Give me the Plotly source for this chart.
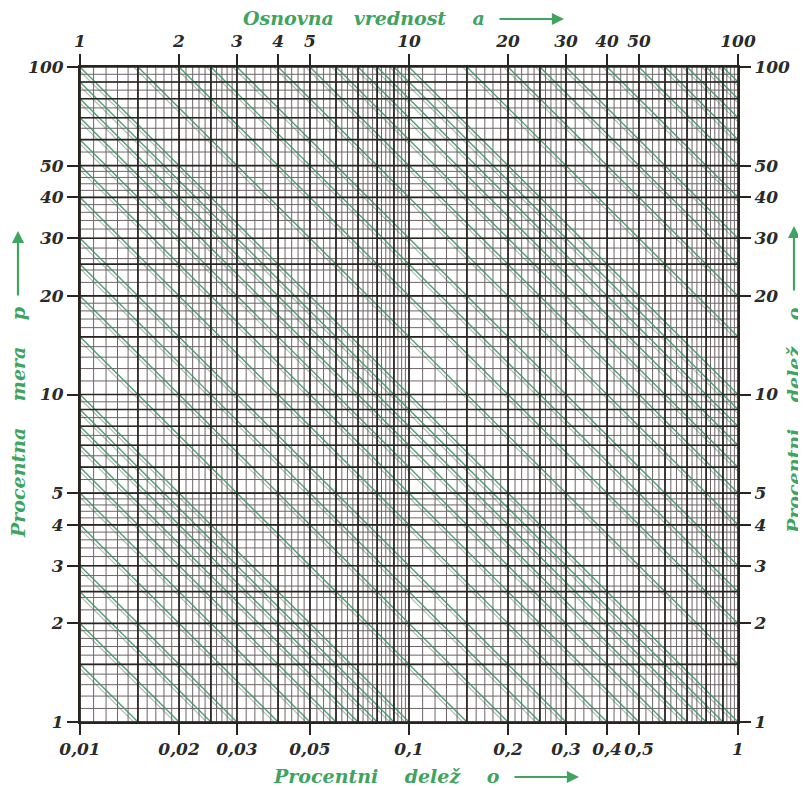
import numpy as np
import plotly.graph_objects as go

# ---------------- data: scales and tick labels ----------------
A_TICKS = [1, 2, 3, 4, 5, 10, 20, 30, 40, 50, 100]          # Osnovna vrednost a (top)
A_LABELS = ["1", "2", "3", "4", "5", "10", "20", "30", "40", "50", "100"]
O_TICKS = [0.01, 0.02, 0.03, 0.05, 0.1, 0.2, 0.3, 0.4, 0.5, 1]  # Procentni delez o (bottom)
O_LABELS = ["0,01", "0,02", "0,03", "0,05", "0,1", "0,2", "0,3", "0,4", "0,5", "1"]
P_TICKS = [1, 2, 3, 4, 5, 10, 20, 30, 40, 50, 100]          # Procentna mera p (left)
P_LABELS = ["1", "2", "3", "4", "5", "10", "20", "30", "40", "50", "100"]
R_TICKS = [1, 2, 3, 4, 5, 10, 20, 30, 40, 50, 100]          # Procentni delez o (right)
R_LABELS = ["1", "2", "3", "4", "5", "10", "20", "30", "40", "50", "100"]

# ruling of the log paper (mantissas inside one decade)
MAJOR_MANTISSAS = [1, 1.5, 2, 2.5, 3, 4, 5, 6, 7, 8, 9]
X_MINOR_SEGMENTS = [(1, 3, 0.1), (3, 5, 0.2), (5, 10, 0.25)]
Y_MINOR_SEGMENTS = [(1, 2, 0.1), (2, 5, 0.2), (5, 10, 0.5)]
DECADES = [1, 10]
# diagonal lines of constant o = a*p/100
DIAG_MANTISSAS = [1, 1.5, 2, 2.5, 3, 4, 5, 6, 7, 8, 9]
DIAG_DECADES = [0.01, 0.1, 1, 10]
PRINT_SHIFT = 1.03   # slight misregistration of the printed diagonals (second plate)

LO, HI = 1, 100

GREEN = "#3fa45e"
DARK = "#2a2421"
MINOR = "#6f6469"
DIAG = "rgba(60,150,100,0.9)"
DIAG2 = "rgba(80,95,90,0.45)"
FONT = "DejaVu Serif"


def minor_values(segments):
    vals = []
    for d in DECADES:
        for s, e, st in segments:
            for v in np.arange(s, e - 1e-9, st):
                vals.append(round(v * d, 6))
    return sorted(set(vals))


def major_values():
    vals = [m * d for d in DECADES for m in MAJOR_MANTISSAS] + [100]
    return sorted(set(round(v, 6) for v in vals))


def vlines(vals):
    xs, ys = [], []
    for v in vals:
        xs += [v, v, None]
        ys += [LO, HI, None]
    return xs, ys


def hlines(vals):
    xs, ys = [], []
    for v in vals:
        xs += [LO, HI, None]
        ys += [v, v, None]
    return xs, ys


def diagonals(factor):
    dx, dy = [], []
    for d in DIAG_DECADES:
        for m in DIAG_MANTISSAS:
            o = m * d * factor
            a0, a1 = max(LO, o), min(HI, 100 * o)
            if a1 > a0 * 1.0001:
                dx += [a0, a1, None]
                dy += [100 * o / a0, 100 * o / a1, None]
    return dx, dy


fig = go.Figure()

# minor ruling
mx, my = vlines(minor_values(X_MINOR_SEGMENTS))
hx, hy = hlines(minor_values(Y_MINOR_SEGMENTS))
fig.add_trace(go.Scatter(x=mx + hx, y=my + hy, mode="lines",
                         line=dict(color=MINOR, width=1), hoverinfo="skip", showlegend=False))

# diagonals (green plate plus faint offset dark plate)
dx2, dy2 = diagonals(1 / PRINT_SHIFT)
fig.add_trace(go.Scatter(x=dx2, y=dy2, mode="lines",
                         line=dict(color=DIAG2, width=1.1), hoverinfo="skip", showlegend=False))
dx, dy = diagonals(1.0)
fig.add_trace(go.Scatter(x=dx, y=dy, mode="lines",
                         line=dict(color=DIAG, width=1.4), hoverinfo="skip", showlegend=False))

# major ruling
Mx, My = vlines(major_values())
Hx, Hy = hlines(major_values())
fig.add_trace(go.Scatter(x=Mx + Hx, y=My + Hy, mode="lines",
                         line=dict(color=DARK, width=1.7), hoverinfo="skip", showlegend=False))

# invisible trace to activate the secondary axes
fig.add_trace(go.Scatter(x=[0.01, 1], y=[1, 100], xaxis="x2", yaxis="y2", mode="markers",
                         marker=dict(opacity=0), hoverinfo="skip", showlegend=False))

tickfont = dict(family=FONT, size=17, color="#2a2a2a", style="italic", weight="bold")
axis_common = dict(type="log", showgrid=False, zeroline=False, ticks="outside", ticklen=11,
                   tickwidth=1.5, tickcolor=DARK, showline=True, linecolor=DARK, linewidth=2,
                   tickfont=tickfont, fixedrange=True, tickangle=0, automargin=False)

# page body has an 8px margin, so the figure is 8px smaller than the window
fig.update_layout(
    width=798, height=780,
    margin=dict(l=72, r=68, t=59, b=66, autoexpand=False),
    paper_bgcolor="white", plot_bgcolor="white",
    xaxis=dict(axis_common, range=[0, 2], side="top", tickvals=A_TICKS, ticktext=A_LABELS),
    xaxis2=dict(axis_common, range=[-2, 0], side="bottom", overlaying="x",
                tickvals=O_TICKS, ticktext=O_LABELS),
    yaxis=dict(axis_common, range=[0, 2], side="left", tickvals=P_TICKS, ticktext=P_LABELS),
    yaxis2=dict(axis_common, range=[0, 2], side="right", overlaying="y",
                tickvals=R_TICKS, ticktext=R_LABELS),
)

# ---------- titles with arrows (window-pixel positions converted to paper units) ----------
W, H, L, B = 658.0, 655.0, 80.0, 722.0


def px(xp):
    return (xp - L) / W


def py(yp):
    return (B - yp) / H


titlefont = dict(family=FONT, size=19, color=GREEN, style="italic", weight="bold")
sp = "&nbsp;" * 4
sp3 = "&nbsp;" * 3

ann = []
ann.append(dict(x=px(364), y=py(18), xref="paper", yref="paper", showarrow=False,
                text="Osnovna" + sp3 + "vrednost" + sp + "a", font=titlefont,
                xanchor="center", yanchor="middle"))
ann.append(dict(x=px(564), y=py(19), xref="paper", yref="paper", text="", showarrow=True,
                ax=-66, ay=0, arrowhead=2, arrowsize=1.1, arrowwidth=2.2, arrowcolor=GREEN))
ann.append(dict(x=px(386), y=py(776), xref="paper", yref="paper", showarrow=False,
                text="Procentni" + sp + "delež" + sp + "o", font=titlefont,
                xanchor="center", yanchor="middle"))
ann.append(dict(x=px(579), y=py(777), xref="paper", yref="paper", text="", showarrow=True,
                ax=-66, ay=0, arrowhead=2, arrowsize=1.1, arrowwidth=2.2, arrowcolor=GREEN))
ann.append(dict(x=px(18), y=py(422), xref="paper", yref="paper", showarrow=False,
                text="Procentna" + sp + "mera" + sp + "p", font=titlefont, textangle=-90,
                xanchor="center", yanchor="middle"))
ann.append(dict(x=px(18), y=py(231), xref="paper", yref="paper", text="", showarrow=True,
                ax=0, ay=66, arrowhead=2, arrowsize=1.1, arrowwidth=2.2, arrowcolor=GREEN))
ann.append(dict(x=px(794), y=py(420), xref="paper", yref="paper", showarrow=False,
                text="Procentni" + sp + "delež" + sp + "o", font=titlefont, textangle=-90,
                xanchor="center", yanchor="middle"))
ann.append(dict(x=px(794), y=py(226), xref="paper", yref="paper", text="", showarrow=True,
                ax=0, ay=66, arrowhead=2, arrowsize=1.1, arrowwidth=2.2, arrowcolor=GREEN))
fig.update_layout(annotations=ann)

fig.write_html("out.html")
